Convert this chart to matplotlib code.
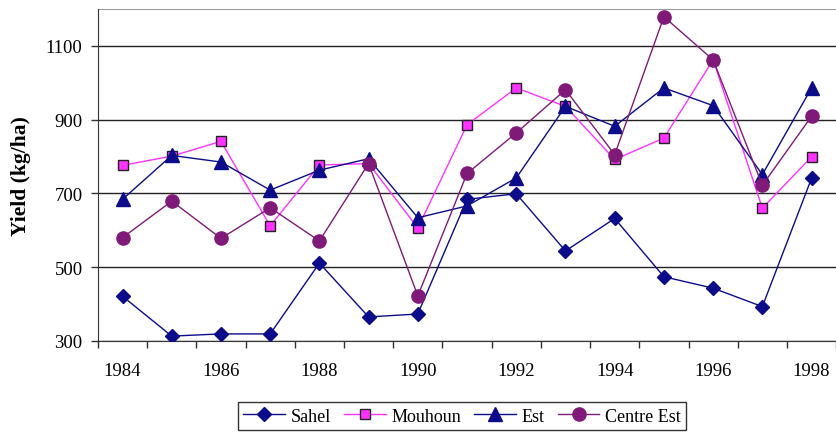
import matplotlib
matplotlib.use("Agg")
import matplotlib.pyplot as plt
import numpy as np

years = list(range(1984, 1999))
sahel = [421, 313, 319, 319, 511, 365, 373, 684, 699, 544, 632, 474, 443, 393, 741]
mouhoun = [776, 801, 841, 612, 777, 781, 606, 886, 986, 936, 792, 850, 1062, 660, 799]
est = [684, 803, 785, 709, 763, 794, 634, 666, 742, 936, 882, 986, 938, 751, 986]
centre_est = [580, 679, 578, 661, 571, 781, 422, 754, 864, 981, 805, 1179, 1062, 722, 909]
yticks = [300, 500, 700, 900, 1100]

plt.rcParams['font.family'] = ['Liberation Serif', 'DejaVu Serif']

fig = plt.figure(figsize=(8.37, 4.35), dpi=100)
ax = fig.add_axes([0.117, 0.214, 0.882, 0.763])

x = np.arange(len(years))
navy = '#0c0c8a'
ax.plot(x, sahel, color=navy, lw=1, marker='D', ms=7.5, mfc=navy, mec=navy, label='Sahel', zorder=3)
ax.plot(x, mouhoun, color='#ff33ff', lw=1, marker='s', ms=7.5, mfc='#ff33ff', mec='#222222', mew=1, label='Mouhoun', zorder=3)
ax.plot(x, est, color=navy, lw=1, marker='^', ms=9.5, mfc=navy, mec=navy, label='Est', zorder=3)
ax.plot(x, centre_est, color='#7f1a78', lw=1, marker='o', ms=9.5, mfc='#7f1a78', mec='#7f1a78', label='Centre Est', zorder=3)

ax.set_xlim(-0.5, len(years) - 0.5)
ax.set_ylim(300, 1200)
ax.set_yticks(yticks)
ax.set_yticklabels([str(v) for v in yticks], fontsize=13.5)
ax.yaxis.grid(True, color='#222222', lw=1)
ax.axhline(1200, color='#999999', lw=1.5, zorder=2)
ax.set_axisbelow(True)

ax.set_xticks(x[::2])
ax.set_xticklabels([str(y) for y in years[::2]], fontsize=13.5)
ax.set_xticks(np.arange(-0.5, len(years), 1), minor=True)
ax.tick_params(axis='x', which='major', length=0, pad=15)
ax.tick_params(axis='x', which='minor', length=5, width=1, color='#333333', direction='out')
ax.tick_params(axis='y', length=5, width=1, color='#333333', direction='out', pad=6)

for s in ['top', 'right']:
    ax.spines[s].set_visible(False)
ax.spines['left'].set_color('#333333')
ax.spines['bottom'].set_color('#333333')

ax.set_ylabel('Yield (kg/ha)', fontsize=15.5, fontweight='bold', labelpad=11)

leg = fig.legend(loc='center', bbox_to_anchor=(0.552, 0.041), ncol=4, fontsize=13,
                 frameon=True, fancybox=False, edgecolor='black', handlelength=2.3,
                 columnspacing=0.75, handletextpad=0.3, borderpad=0.3)
leg.get_frame().set_linewidth(1)

fig.savefig('out.png', dpi=100)
